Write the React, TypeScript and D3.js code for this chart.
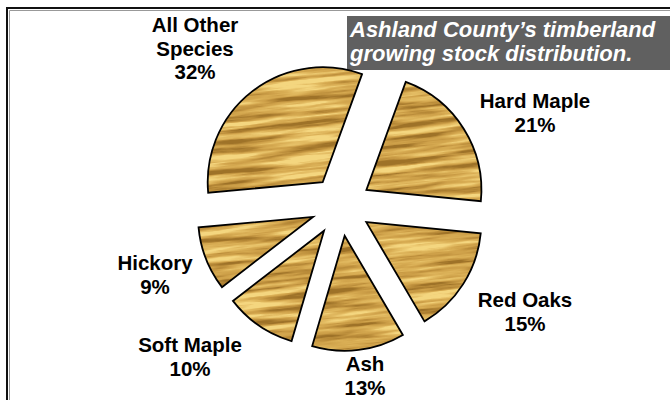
import React from 'react';
import * as d3 from 'd3';

// growing stock share by species group, clockwise from the top
const categories = ['Hard Maple', 'Red Oaks', 'Ash', 'Soft Maple', 'Hickory', 'All Other Species'];
const shares = [21, 15, 13, 10, 9, 32];
const labelLines = [['Hard Maple'], ['Red Oaks'], ['Ash'], ['Soft Maple'], ['Hickory'], ['All Other', 'Species']];
const titleLines = ['Ashland County\u2019s timberland', 'growing stock distribution.'];

// label layout (centre x, first baseline y)
const labelAnchors: Record<string, [number, number]> = {
    'Hard Maple': [535, 108],
    'Red Oaks': [525, 307],
    'Ash': [365, 371],
    'Soft Maple': [190, 352],
    'Hickory': [155, 270],
    'All Other Species': [195, 32],
};

const W = 670;
const H = 400;
const cx = 341;
const cy = 206;
const radius = 115;
const explode = 30;
const font = "'Liberation Sans', Arial, Helvetica, sans-serif";

const App: React.FC = () => {
    const pie = d3.pie<number>()
        .sort(null)
        .startAngle((20 * Math.PI) / 180)
        .endAngle((380 * Math.PI) / 180);
    const arcs = pie(shares);
    const arc = d3.arc<d3.PieArcDatum<number>>().innerRadius(0).outerRadius(radius);

    const slices = arcs.map((a, i) => {
        const mid = (a.startAngle + a.endAngle) / 2;
        const dx = cx + Math.sin(mid) * explode;
        const dy = cy - Math.cos(mid) * explode;
        return { key: categories[i], d: arc(a) || '', transform: `translate(${dx},${dy})` };
    });

    return (
        <svg width={W} height={H} style={{ position: 'absolute', left: 0, top: 0, background: '#fff' }}>
            <defs>
                <filter id="wood" x="0" y="0" width="100%" height="100%" primitiveUnits="userSpaceOnUse"
                    colorInterpolationFilters="sRGB">
                    <feTurbulence type="fractalNoise" baseFrequency="0.011 0.17" numOctaves="4" seed="7" result="n" />
                    <feColorMatrix in="n" type="matrix"
                        values="2.4 0 0 0 -0.7  2.4 0 0 0 -0.7  2.4 0 0 0 -0.7  0 0 0 0 1" result="g" />
                    <feComponentTransfer in="g">
                        <feFuncR type="table" tableValues="0.62 0.72 0.80 0.85 0.90 0.96" />
                        <feFuncG type="table" tableValues="0.45 0.54 0.62 0.68 0.75 0.84" />
                        <feFuncB type="table" tableValues="0.16 0.22 0.28 0.33 0.40 0.50" />
                    </feComponentTransfer>
                </filter>
                <clipPath id="slices">
                    {slices.map(s => <path key={s.key} d={s.d} transform={s.transform} />)}
                </clipPath>
            </defs>

            {/* frame: top and left edges only */}
            <path d={`M7,${H} V8 H${W}`} fill="none" stroke="#111" strokeWidth={2} />
            <path d={`M9.5,${H} V10.5 H${W}`} fill="none" stroke="#999" strokeWidth={1} />

            {/* title box */}
            <rect x={347} y={16} width={W - 347} height={54} fill="#606060" />
            {titleLines.map((t, i) => (
                <text key={t} x={350} y={37 + i * 24} fill="#fff" fontFamily={font}
                    fontWeight="bold" fontStyle="italic" fontSize={22}>{t}</text>
            ))}

            {/* wood textured slices */}
            <g clipPath="url(#slices)">
                <rect x={150} y={40} width={400} height={340} filter="url(#wood)"
                    transform={`rotate(-6 ${cx} ${cy})`} />
            </g>
            {slices.map(s => (
                <path key={s.key} d={s.d} transform={s.transform} fill="none"
                    stroke="#000" strokeWidth={1.8} strokeLinejoin="miter" />
            ))}

            {/* labels */}
            {categories.map((c, i) => {
                const [lx, ly] = labelAnchors[c];
                const lines = [...labelLines[i], `${shares[i]}%`];
                return (
                    <text key={c} textAnchor="middle" fontFamily={font} fontWeight="bold" fontSize={20.5} fill="#000">
                        {lines.map((l, j) => (
                            <tspan key={j} x={lx} y={ly + j * 23.5}>{l}</tspan>
                        ))}
                    </text>
                );
            })}
        </svg>
    );
};

export default App;
